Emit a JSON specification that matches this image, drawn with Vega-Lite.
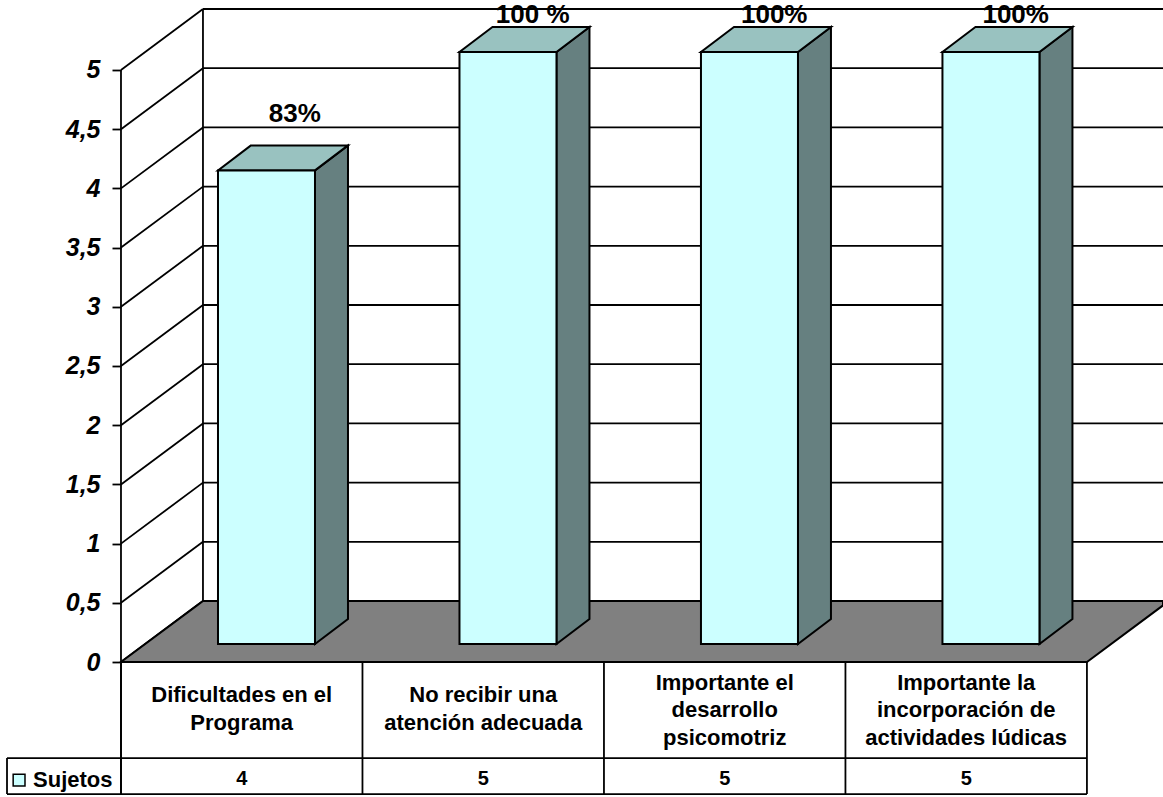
{
"$schema":"https://vega.github.io/schema/vega-lite/v6.json",
"width":1163,"height":797,"padding":0,
"autosize":"none",
"background":"white",
"config":{"view":{"stroke":null},"font":"Liberation Sans"},
"datasets":{
"barras":[
{"categoria":"Dificultades en el\nPrograma","sujetos":4,"etiqueta":"83%","orden":0},
{"categoria":"No recibir una\natención adecuada","sujetos":5,"etiqueta":"100 %","orden":1},
{"categoria":"Importante el\ndesarrollo\npsicomotriz","sujetos":5,"etiqueta":"100%","orden":2},
{"categoria":"Importante la\nincorporación de\nactividades lúdicas","sujetos":5,"etiqueta":"100%","orden":3}],
"rejilla":[{"valor":0},{"valor":0.5},{"valor":1},{"valor":1.5},{"valor":2},{"valor":2.5},{"valor":3},{"valor":3.5},{"valor":4},{"valor":4.5},{"valor":5}],
"columnas":[{"c":0},{"c":1},{"c":2},{"c":3},{"c":4}],
"uno":[{"u":1}]
},
"layer":[
{"data":{"name":"rejilla"},
 "transform":[{"calculate":"datum.valor+0.515","as":"yb"},{"calculate":"0.3395","as":"xa"},{"calculate":"4.315","as":"xb"}],
 "mark":{"type":"rule","stroke":"black","strokeWidth":1.8},
 "encoding":{
  "x":{"field":"xa","type":"quantitative","scale":{"domain":[-0.501,4.315],"nice":false,"zero":false},"axis":null},
  "x2":{"field":"xb"},
  "y":{"field":"yb","type":"quantitative","scale":{"domain":[-1.14,5.591],"nice":false,"zero":false}}
 }},
{"data":{"name":"rejilla"},
 "transform":[{"calculate":"datum.valor+0.515","as":"yb"},{"calculate":"0","as":"xa"},{"calculate":"0.3395","as":"xb"}],
 "mark":{"type":"rule","stroke":"black","strokeWidth":1.8},
 "encoding":{
  "x":{"field":"xa","type":"quantitative","axis":null},
  "x2":{"field":"xb"},
  "y":{"field":"valor","type":"quantitative",
   "axis":{"values":[0,0.5,1,1.5,2,2.5,3,3.5,4,4.5,5],"offset":-121,"domain":false,"grid":false,"title":null,"ticks":true,"tickSize":9,"tickWidth":1.8,"tickColor":"black","labelPadding":12,"labelFont":"Liberation Sans","labelFontSize":25,"labelFontWeight":"bold","labelFontStyle":"italic","labelColor":"black","labelExpr":"replace(''+datum.value,'.',',')"}},
  "y2":{"field":"yb"}
 }},
{"data":{"name":"uno"},
 "transform":[{"calculate":"0.3395","as":"xa"},{"calculate":"0.515","as":"ya"},{"calculate":"5.515","as":"yb"}],
 "mark":{"type":"rule","stroke":"black","strokeWidth":1.8},
 "encoding":{"x":{"field":"xa","type":"quantitative","axis":null},"y":{"field":"ya","type":"quantitative"},"y2":{"field":"yb"}}},
{"data":{"name":"uno"},
 "transform":[{"calculate":"0","as":"xa"},{"calculate":"-1.115","as":"ya"},{"calculate":"5","as":"yb"}],
 "mark":{"type":"rule","stroke":"black","strokeWidth":1.8},
 "encoding":{"x":{"field":"xa","type":"quantitative","axis":null},"y":{"field":"ya","type":"quantitative"},"y2":{"field":"yb"}}},
{"data":{"values":[{"z":0},{"z":0.928},{"z":1}]},
 "transform":[{"calculate":"datum.z*0.515","as":"yf"},{"calculate":"datum.z*0.3395","as":"xa"},{"calculate":"min(4+datum.z*0.3395,4.315)","as":"xb"}],
 "mark":{"type":"area","orient":"horizontal","fill":"#808080","stroke":"black","strokeWidth":2},
 "encoding":{"y":{"field":"yf","type":"quantitative"},"x":{"field":"xa","type":"quantitative","axis":null},"x2":{"field":"xb"}}},
{"data":{"name":"barras"},
 "transform":[{"calculate":"[0,1]","as":"p"},{"flatten":["p"]},
  {"calculate":"datum.orden+0.8034+datum.p*0.1366","as":"xs"},
  {"calculate":"0.152+datum.p*0.211","as":"y0"},
  {"calculate":"datum.sujetos+0.152+datum.p*0.211","as":"y1"}],
 "mark":{"type":"area","orient":"vertical","fill":"#668080","stroke":"black","strokeWidth":2},
 "encoding":{"x":{"field":"xs","type":"quantitative","axis":null},"y":{"field":"y1","type":"quantitative"},"y2":{"field":"y0"},"detail":{"field":"orden","type":"nominal"}}},
{"data":{"name":"barras"},
 "transform":[{"calculate":"[0,1]","as":"p"},{"flatten":["p"]},
  {"calculate":"datum.sujetos+0.152+datum.p*0.211","as":"yt"},
  {"calculate":"datum.orden+0.4017+datum.p*0.1366","as":"xa"},
  {"calculate":"datum.orden+0.8034+datum.p*0.1366","as":"xb"}],
 "mark":{"type":"area","orient":"horizontal","fill":"#99C2C0","stroke":"black","strokeWidth":2},
 "encoding":{"y":{"field":"yt","type":"quantitative"},"x":{"field":"xa","type":"quantitative","axis":null},"x2":{"field":"xb"},"detail":{"field":"orden","type":"nominal"}}},
{"data":{"name":"barras"},
 "transform":[{"calculate":"datum.orden+0.4017","as":"xa"},{"calculate":"datum.orden+0.8034","as":"xb"},{"calculate":"datum.sujetos+0.152","as":"yt"},{"calculate":"0.152","as":"y0"}],
 "mark":{"type":"rect","fill":"#CCFFFF","stroke":"black","strokeWidth":2},
 "encoding":{"x":{"field":"xa","type":"quantitative","axis":null},"x2":{"field":"xb"},"y":{"field":"y0","type":"quantitative"},"y2":{"field":"yt"}}},
{"data":{"name":"barras"},
 "transform":[{"calculate":"datum.orden+(datum.orden==0?0.72:0.705)","as":"xl"},{"calculate":"datum.sujetos+(datum.sujetos==4?0.624:0.465)","as":"yl"}],
 "mark":{"type":"text","font":"Liberation Sans","fontSize":26,"fontWeight":"bold","color":"black","align":"center","baseline":"middle"},
 "encoding":{"x":{"field":"xl","type":"quantitative","axis":null},"y":{"field":"yl","type":"quantitative"},"text":{"field":"etiqueta","type":"nominal"}}},
{"data":{"name":"columnas"},
 "transform":[{"calculate":"0","as":"ya"},{"calculate":"-1.115","as":"yb"}],
 "mark":{"type":"rule","stroke":"black","strokeWidth":1.8},
 "encoding":{"x":{"field":"c","type":"quantitative","axis":null},"y":{"field":"ya","type":"quantitative"},"y2":{"field":"yb"}}},
{"data":{"name":"uno"},
 "transform":[{"calculate":"-0.472","as":"xa"},{"calculate":"-0.811","as":"ya"},{"calculate":"-1.115","as":"yb"}],
 "mark":{"type":"rule","stroke":"black","strokeWidth":1.8},
 "encoding":{"x":{"field":"xa","type":"quantitative","axis":null},"y":{"field":"ya","type":"quantitative"},"y2":{"field":"yb"}}},
{"data":{"values":[{"f":-0.811},{"f":-1.115}]},
 "transform":[{"calculate":"-0.472","as":"xa"},{"calculate":"4","as":"xb"}],
 "mark":{"type":"rule","stroke":"black","strokeWidth":1.8},
 "encoding":{"x":{"field":"xa","type":"quantitative","axis":null},"x2":{"field":"xb"},"y":{"field":"f","type":"quantitative"}}},
{"data":{"name":"barras"},
 "transform":[{"calculate":"datum.orden+0.5","as":"xc"},{"calculate":"length(split(datum.categoria,'\\n'))==3?-0.177:-0.279","as":"yc"}],
 "mark":{"type":"text","font":"Liberation Sans","fontSize":22,"fontWeight":"bold","color":"black","align":"center","baseline":"middle","lineBreak":"\n","lineHeight":27.5},
 "encoding":{"x":{"field":"xc","type":"quantitative","axis":null},"y":{"field":"yc","type":"quantitative"},"text":{"field":"categoria","type":"nominal"}}},
{"data":{"name":"barras"},
 "transform":[{"calculate":"datum.orden+0.5","as":"xc"},{"calculate":"-0.99","as":"yc"}],
 "mark":{"type":"text","font":"Liberation Sans","fontSize":20,"fontWeight":"bold","color":"black","align":"center","baseline":"middle"},
 "encoding":{"x":{"field":"xc","type":"quantitative","axis":null},"y":{"field":"yc","type":"quantitative"},"text":{"field":"sujetos","type":"nominal"}}},
{"data":{"name":"uno"},
 "transform":[{"calculate":"-0.422","as":"xc"},{"calculate":"-0.997","as":"yc"}],
 "mark":{"type":"point","shape":"square","filled":true,"size":140,"fill":"#CCFFFF","stroke":"black","strokeWidth":1.5,"opacity":1},
 "encoding":{"x":{"field":"xc","type":"quantitative","axis":null},"y":{"field":"yc","type":"quantitative"}}},
{"data":{"name":"uno"},
 "transform":[{"calculate":"-0.364","as":"xc"},{"calculate":"-0.997","as":"yc"}],
 "mark":{"type":"text","font":"Liberation Sans","fontSize":22,"fontWeight":"bold","color":"black","align":"left","baseline":"middle","text":"Sujetos"},
 "encoding":{"x":{"field":"xc","type":"quantitative","axis":null},"y":{"field":"yc","type":"quantitative"}}}
]
}
